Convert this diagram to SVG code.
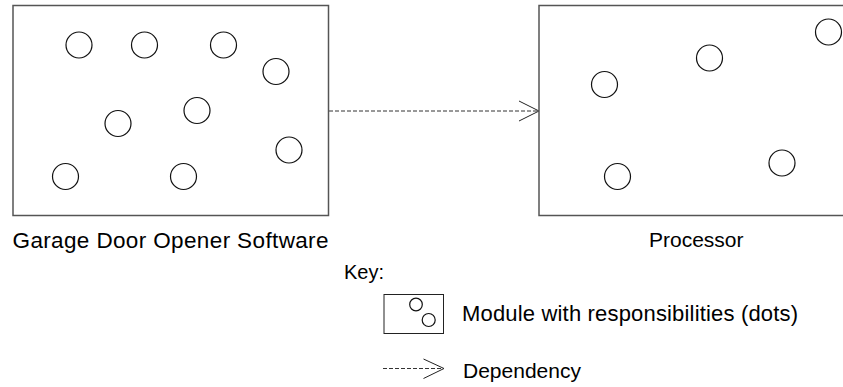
<svg xmlns="http://www.w3.org/2000/svg" width="843" height="387" viewBox="0 0 843 387">
<style>
.box{fill:#fff;stroke:#555;stroke-width:1.5}
.dot{fill:none;stroke:#111;stroke-width:1.2}
.lbl{font-family:"Liberation Sans",Arial,sans-serif;font-size:21px;fill:#000}
.dep{fill:none;stroke:#333;stroke-width:1;stroke-dasharray:4,2}
.head{fill:none;stroke:#222;stroke-width:1}
</style>
<rect width="843" height="387" fill="#fff"/>
<g id="connectors">
<line class="dep" x1="329" y1="111" x2="538" y2="111"/>
<polyline class="head" points="519,101 539,111 519,121"/>
</g>
<g id="software">
<rect class="box" x="13" y="5.5" width="315.5" height="210"/>
<circle class="dot" cx="79" cy="45" r="13"/>
<circle class="dot" cx="144.5" cy="45" r="13"/>
<circle class="dot" cx="223.5" cy="45" r="13"/>
<circle class="dot" cx="276" cy="71.5" r="13"/>
<circle class="dot" cx="197" cy="110.5" r="13"/>
<circle class="dot" cx="118" cy="123.5" r="13"/>
<circle class="dot" cx="289" cy="150" r="13"/>
<circle class="dot" cx="65.5" cy="176.5" r="13"/>
<circle class="dot" cx="183.5" cy="176.5" r="13"/>
<text class="lbl" x="12.5" y="248" style="font-size:22.5px" textLength="316" lengthAdjust="spacing">Garage Door Opener Software</text>
</g>
<g id="processor">
<rect class="box" x="539" y="5.5" width="310" height="210"/>
<circle class="dot" cx="604.5" cy="84.5" r="13"/>
<circle class="dot" cx="709.5" cy="58" r="13"/>
<circle class="dot" cx="828.5" cy="32" r="13"/>
<circle class="dot" cx="617.5" cy="176.5" r="13"/>
<circle class="dot" cx="782" cy="163" r="13"/>
<text class="lbl" x="649" y="247">Processor</text>
</g>
<g id="key">
<text class="lbl" x="344" y="279" style="font-size:20px">Key:</text>
<rect x="384" y="294.5" width="59.5" height="39" fill="#fff" stroke="#222" stroke-width="1"/>
<circle class="dot" cx="416" cy="304.5" r="6.3" stroke-width="1"/>
<circle class="dot" cx="428.7" cy="320" r="6.5" stroke-width="1"/>
<text class="lbl" x="462" y="320.5" style="font-size:22px" textLength="336" lengthAdjust="spacing">Module with responsibilities (dots)</text>
<line class="dep" x1="383" y1="368.5" x2="443" y2="368.5" stroke-width="0.8"/>
<polyline class="head" points="423.5,359 444,368.5 423.5,378.5" stroke-width="0.8"/>
<text class="lbl" x="463" y="377.5">Dependency</text>
</g>
</svg>
